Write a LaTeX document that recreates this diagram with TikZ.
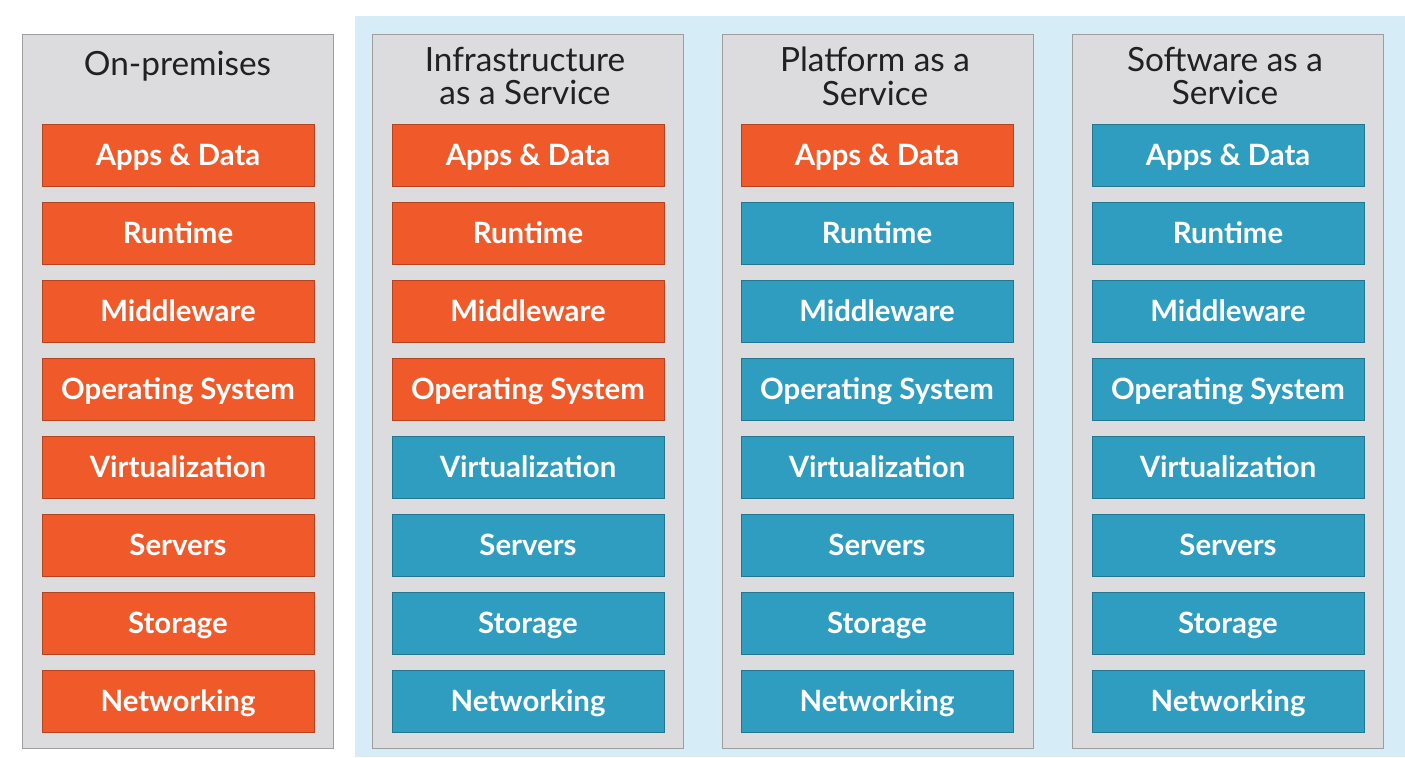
\documentclass[tikz,border=0pt]{standalone}
\usepackage{fontspec}
\setmainfont{Lato}
\usepackage{tikz}
\usetikzlibrary{positioning}
\definecolor{onprem}{RGB}{240,90,42}
\definecolor{cloud}{RGB}{46,157,192}
\definecolor{panelgray}{RGB}{220,219,222}
\definecolor{cloudbg}{RGB}{214,236,246}
\tikzstyle{panel} = [rectangle, draw=black!38, fill=panelgray, minimum width=6.22cm, minimum height=14.28cm, inner sep=0pt, outer sep=0pt]
\tikzstyle{title} = [align=center, text=black!87, font=\fontsize{19}{19.3}\selectfont]
\tikzstyle{layer} = [rectangle, minimum width=5.44cm, minimum height=1.24cm, inner sep=0pt, outer sep=0pt, text height=1.15em, text depth=0pt, text=white, font=\fontsize{16.7}{18}\selectfont\bfseries]
\tikzstyle{own} = [layer, fill=onprem, draw=onprem!75!black]
\tikzstyle{managed} = [layer, fill=cloud, draw=cloud!75!black]

\begin{document}
\begin{tikzpicture}[x=0.02cm, y=-0.02cm, node distance = 0.32cm]
		\useasboundingbox (0,0) rectangle (1405,757);
		% shaded area behind the three cloud models
		\fill[cloudbg] (355,16) rectangle (1405,757);
		
		\node (OnPrem) [panel] at (177.5,391) {};
		\node (IaaS) [panel] at (527.5,391) {};
		\node (PaaS) [panel] at (877.5,391) {};
		\node (SaaS) [panel] at (1227.5,391) {};
		
		\node (OnPremTitle) [title] at (177.5,66) {On-premises};
		\node (IaaSTitle) [title] at (525,76) {Infrastructure\\as a Service};
		\node (PaaSTitle) [title] at (875,76) {Platform as a\\Service};
		\node (SaaSTitle) [title] at (1225,76) {Software as a\\Service};
		
		% on-premises: everything is yours
		\node (OnPremApps) [own] at (178,155) {Apps \& Data};
		\node (OnPremRuntime) [own, below = of OnPremApps] {Runtime};
		\node (OnPremMiddle) [own, below = of OnPremRuntime] {Middleware};
		\node (OnPremOS) [own, below = of OnPremMiddle] {Operating System};
		\node (OnPremVirt) [own, below = of OnPremOS] {Virtualization};
		\node (OnPremServers) [own, below = of OnPremVirt] {Servers};
		\node (OnPremStorage) [own, below = of OnPremServers] {Storage};
		\node (OnPremNet) [own, below = of OnPremStorage] {Networking};
		
		% IaaS
		\node (IaaSApps) [own] at (528,155) {Apps \& Data};
		\node (IaaSRuntime) [own, below = of IaaSApps] {Runtime};
		\node (IaaSMiddle) [own, below = of IaaSRuntime] {Middleware};
		\node (IaaSOS) [own, below = of IaaSMiddle] {Operating System};
		\node (IaaSVirt) [managed, below = of IaaSOS] {Virtualization};
		\node (IaaSServers) [managed, below = of IaaSVirt] {Servers};
		\node (IaaSStorage) [managed, below = of IaaSServers] {Storage};
		\node (IaaSNet) [managed, below = of IaaSStorage] {Networking};
		
		% PaaS
		\node (PaaSApps) [own] at (877,155) {Apps \& Data};
		\node (PaaSRuntime) [managed, below = of PaaSApps] {Runtime};
		\node (PaaSMiddle) [managed, below = of PaaSRuntime] {Middleware};
		\node (PaaSOS) [managed, below = of PaaSMiddle] {Operating System};
		\node (PaaSVirt) [managed, below = of PaaSOS] {Virtualization};
		\node (PaaSServers) [managed, below = of PaaSVirt] {Servers};
		\node (PaaSStorage) [managed, below = of PaaSServers] {Storage};
		\node (PaaSNet) [managed, below = of PaaSStorage] {Networking};
		
		% SaaS
		\node (SaaSApps) [managed] at (1228,155) {Apps \& Data};
		\node (SaaSRuntime) [managed, below = of SaaSApps] {Runtime};
		\node (SaaSMiddle) [managed, below = of SaaSRuntime] {Middleware};
		\node (SaaSOS) [managed, below = of SaaSMiddle] {Operating System};
		\node (SaaSVirt) [managed, below = of SaaSOS] {Virtualization};
		\node (SaaSServers) [managed, below = of SaaSVirt] {Servers};
		\node (SaaSStorage) [managed, below = of SaaSServers] {Storage};
		\node (SaaSNet) [managed, below = of SaaSStorage] {Networking};
\end{tikzpicture}
\end{document}
